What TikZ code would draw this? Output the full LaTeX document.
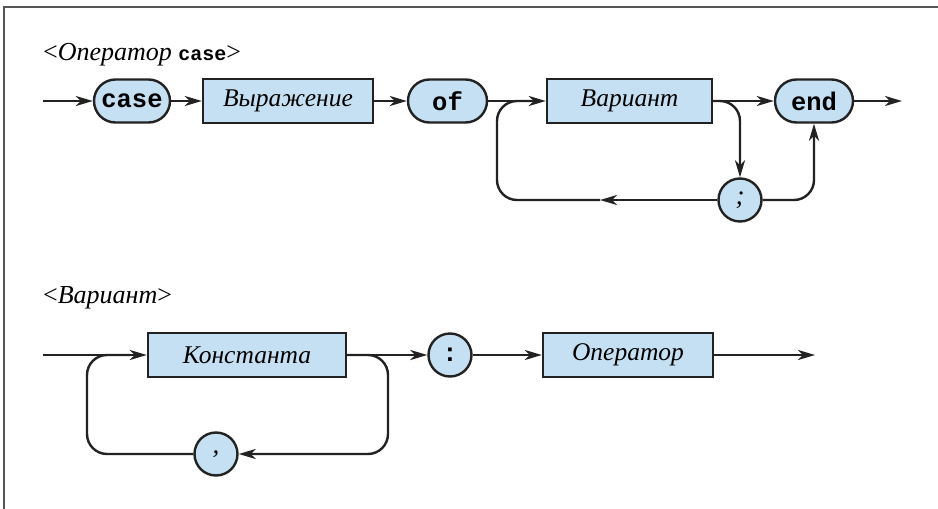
\documentclass[tikz,border=0pt]{standalone}
\usepackage{fontspec}
\setmainfont{Liberation Serif}
\setmonofont{Liberation Mono}
\usetikzlibrary{arrows.meta,calc}
\definecolor{boxfill}{HTML}{C5E0F2}
\definecolor{ink}{HTML}{222222}
\definecolor{framegray}{HTML}{555555}
\tikzset{
  x=1pt, y=-1pt,
  line/.style={draw=ink, line width=2.4pt},
  arr/.style={line, -{Stealth[length=17pt,width=10pt,inset=5pt]}},
  loopline/.style={line, rounded corners=20pt},
  nterm/.style={draw=ink, line width=2.4pt, fill=boxfill, rectangle,
    minimum height=44pt, inner sep=0pt,
    font=\fontsize{25.5}{29}\selectfont\itshape},
  term/.style={draw=ink, line width=2.4pt, fill=boxfill, rectangle,
    rounded corners=21.5pt, minimum height=43pt, inner sep=0pt,
    font=\fontsize{25.5}{29}\selectfont\ttfamily\bfseries},
  sym/.style={draw=ink, line width=2.4pt, fill=boxfill, circle,
    minimum size=43pt, inner sep=0pt},
  title/.style={anchor=base west, inner sep=0pt,
    font=\fontsize{26}{30}\selectfont},
}
\begin{document}
\begin{tikzpicture}
\useasboundingbox (0,0) rectangle (938,509);
% frame
\draw[framegray, line width=1.3pt] (4,509) -- (4,7) -- (938,7);

% ---- case statement ----
\node[title] (t1) at (43,60) {<\textit{Оператор} {\ttfamily\bfseries\fontsize{20}{24}\selectfont case}>};

\node[term, minimum width=76pt] (case) at (132,101) {case};
\node[nterm, minimum width=170pt] (vyr) at (288,101) {Выражение};
\node[term, minimum width=79pt] (of) at (447.5,101) {of};
\node[nterm, minimum width=165pt] (var) at (629.5,101) {Вариант};
\node[term, minimum width=78pt] (end) at (814,101) {end};
\node[sym, font=\fontsize{27}{30}\selectfont\itshape] (semi) at (740,200) {;};

\coordinate (in1) at (43,101);
\coordinate (out1) at (902,101);
\coordinate (ret1) at (600,200);

\draw[arr] (in1) -- (case.west);
\draw[arr] (case.east) -- (vyr.west);
\draw[arr] (vyr.east) -- (of.west);
\draw[arr] (of.east) -- (var.west);
\draw[arr] (var.east) -- (end.west);
\draw[arr] (end.east) -- (out1);
\draw[arr, rounded corners=20pt] (var.east) -- (semi.north |- var.east) -- (semi.north);
\draw[arr, rounded corners=20pt] (semi.east) -- (end.south |- semi.east) -- (end.south);
\draw[arr] (semi.west) -- (ret1);
\draw[loopline] (ret1) -- (497,200) -- (497,101) -- (540,101);

% ---- variant ----
\node[title] (t2) at (43,303) {<\textit{Вариант}>};

\node[nterm, minimum width=198pt] (konst) at (247,355) {Константа};
\node[sym, font=\fontsize{25.5}{29}\selectfont\ttfamily\bfseries] (colon) at (450,355) {:};
\node[nterm, minimum width=170pt] (oper) at (628,355) {Оператор};
\node[sym, font=\fontsize{27}{30}\selectfont\itshape] (comma) at (216,454) {,};

\coordinate (in2) at (43,355);
\coordinate (out2) at (815,355);

\draw[arr] (in2) -- (konst.west);
\draw[arr] (konst.east) -- (colon.west);
\draw[arr] (colon.east) -- (oper.west);
\draw[arr] (oper.east) -- (out2);
\draw[arr, rounded corners=20pt] (konst.east) -- (388,355) -- (388,454) -- (comma.east);
\draw[loopline] (comma.west) -- (87,454) -- (87,355) -- (130,355);
\end{tikzpicture}
\end{document}
